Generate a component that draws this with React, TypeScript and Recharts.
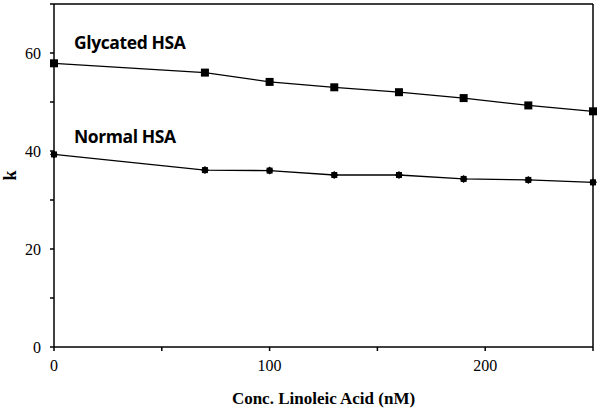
import React from "react";
import {
  Label,
  Line,
  LineChart,
  ReferenceLine,
  XAxis,
  YAxis,
} from "recharts";

const conc = [0, 70, 100, 130, 160, 190, 220, 250];
const glycated = [57.9, 56.0, 54.1, 53.0, 52.0, 50.8, 49.3, 48.1];
const normal = [39.3, 36.1, 36.0, 35.1, 35.1, 34.3, 34.1, 33.6];

const xTicks = [0, 50, 100, 150, 200, 250];
const yTicks = [0, 10, 20, 30, 40, 50, 60, 70];

const data = conc.map((c, i) => ({ conc: c, glycated: glycated[i], normal: normal[i] }));

const serif = "Liberation Serif";
const sans = "Open Sans";

function SquareDot(props: any) {
  const { cx, cy } = props;
  if (cx == null || cy == null) return null;
  return <rect x={cx - 4} y={cy - 4} width={8} height={8} fill="#000" />;
}

function SmallDot(props: any) {
  const { cx, cy } = props;
  if (cx == null || cy == null) return null;
  return (
    <g>
      <path d={`M${cx},${cy - 4} L${cx + 4},${cy} L${cx},${cy + 4} L${cx - 4},${cy} Z`} fill="#000" />
      <rect x={cx - 3} y={cy - 3} width={6} height={6} fill="#000" />
    </g>
  );
}

const tickStyle = { fill: "#000", fontFamily: serif, fontSize: 16 };

export default function App() {
  return (
    <div style={{ position: "relative", width: 600, height: 409, background: "#fff", fontFamily: serif }}>
      <style>{"body{margin:0} .recharts-cartesian-axis-tick-value{font-family:'Liberation Serif',serif}"}</style>
      <LineChart
        width={600}
        height={409}
        data={data}
        margin={{ top: 4, right: 7, bottom: 0, left: 0 }}
      >
        <XAxis
          dataKey="conc"
          type="number"
          domain={[0, 250]}
          ticks={xTicks}
          interval={0}
          tickFormatter={(v: number) => (v % 100 === 0 ? String(v) : "")}
          height={62}
          tickSize={4}
          tickMargin={9}
          stroke="#000"
          strokeWidth={1.5}
          tick={tickStyle}
        >
          <Label
            value="Conc. Linoleic Acid (nM)"
            position="insideBottom"
            offset={5}
            style={{ fill: "#000", fontFamily: serif, fontSize: 17, fontWeight: "bold" }}
          />
        </XAxis>
        <YAxis
          type="number"
          domain={[0, 70]}
          ticks={yTicks}
          interval={0}
          tickFormatter={(v: number) => (v % 20 === 0 && v < 70 ? String(v) : "")}
          width={54}
          tickSize={4}
          tickMargin={9}
          stroke="#000"
          strokeWidth={1.5}
          tick={tickStyle}
        >
          <Label
            value="k"
            angle={-90}
            position="insideLeft"
            offset={10}
            style={{ fill: "#000", fontFamily: serif, fontSize: 18, fontWeight: "bold", textAnchor: "middle" }}
          />
        </YAxis>
        <ReferenceLine y={70} stroke="#000" strokeWidth={1.5} />
        <ReferenceLine x={250} stroke="#000" strokeWidth={1.5} />
        <Line
          dataKey="glycated"
          stroke="#000"
          strokeWidth={1.3}
          dot={<SquareDot />}
          isAnimationActive={false}
        />
        <Line
          dataKey="normal"
          stroke="#000"
          strokeWidth={1.3}
          dot={<SmallDot />}
          isAnimationActive={false}
        />
      </LineChart>
      <div style={{ position: "absolute", left: 74, top: 30, fontFamily: sans, fontWeight: "bold", fontSize: 17.5, color: "#000", letterSpacing: -0.4 }}>
        Glycated HSA
      </div>
      <div style={{ position: "absolute", left: 74, top: 124, fontFamily: sans, fontWeight: "bold", fontSize: 17.5, color: "#000", letterSpacing: -0.4 }}>
        Normal HSA
      </div>
    </div>
  );
}
